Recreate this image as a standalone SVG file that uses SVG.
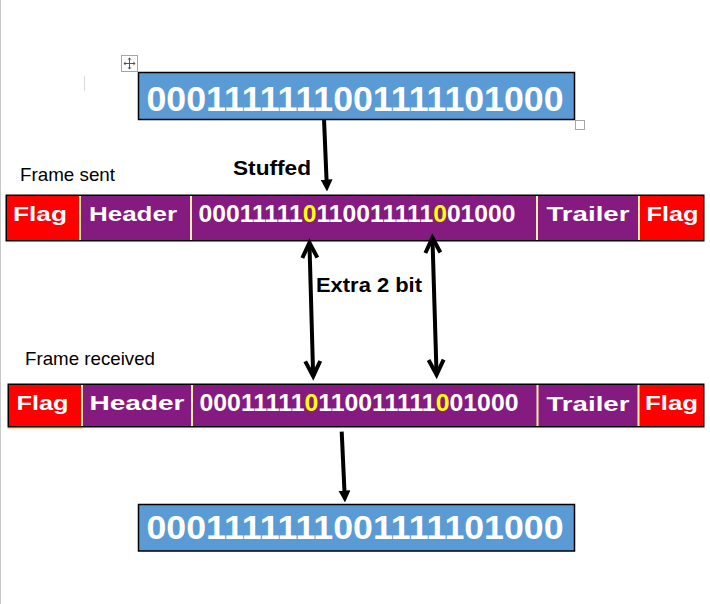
<svg xmlns="http://www.w3.org/2000/svg" width="710" height="604" viewBox="0 0 710 604">
<defs>
<style>
.bits{font-family:"Liberation Sans",Arial,sans-serif;font-weight:700;fill:#fff}
.lbl{font-family:"Liberation Sans",Arial,sans-serif;fill:#000}
.bold{font-weight:700}
.box{fill:#5B9BD5;stroke:#000;stroke-width:1.5}
.red{fill:#FF0000}
.pur{fill:#851B80}
.div{stroke:#FFEFA8;stroke-width:2}
.edge{stroke:#F8B860;stroke-width:1.2}
.frame{fill:none;stroke:#000;stroke-width:1.5}
.y{fill:#FFFF00}
.conn{stroke:#000;stroke-width:4;fill:none}
.handle{fill:#fff;stroke:#A6A6A6;stroke-width:1}
</style>
<marker id="fh" markerUnits="userSpaceOnUse" markerWidth="12" markerHeight="12" viewBox="0 0 12 12" refX="0.5" refY="6" orient="auto"><path d="M0,0 L12,6 L0,12 z" fill="#000"/></marker>
<marker id="oh" markerUnits="userSpaceOnUse" markerWidth="24" markerHeight="24" viewBox="-4 -12 24 24" refX="14.5" refY="0" orient="auto-start-reverse" overflow="visible"><path d="M0,-7.5 L15,0 L0,7.5" fill="none" stroke="#000" stroke-width="4"/></marker>
</defs>

<rect x="0" y="0" width="710" height="604" fill="#fff"/>
<line x1="0.5" y1="0" x2="0.5" y2="604" stroke="#C8C8C8" stroke-width="1"/>
<line x1="84.5" y1="76" x2="84.5" y2="91" stroke="#D9D9D9" stroke-width="1"/>

<g id="move-handle">
<rect class="handle" x="121.5" y="55.5" width="16" height="16"/>
<path d="M129.5,58.5 V68.5 M124.5,63.5 H134.5" stroke="#555" stroke-width="1" fill="none"/>
<path d="M129.5,57.5 l-2,2 h4 z M129.5,69.5 l-2,-2 h4 z M123.5,63.5 l2,-2 v4 z M135.5,63.5 l-2,-2 v4 z" fill="#555"/>
</g>
<rect id="resize-handle" class="handle" x="575.5" y="120.5" width="9" height="9"/>

<g id="top-box">
<rect class="box" x="138.5" y="72.5" width="436" height="47"/>
<text class="bits" x="146.5" y="110.5" font-size="35" textLength="417" lengthAdjust="spacingAndGlyphs">0001111111001111101000</text>
</g>

<g id="frame-sent">
<g id="fs-flag1"><rect class="red" x="6" y="195" width="74" height="46"/><text class="bits" x="13" y="221" font-size="21" textLength="54" lengthAdjust="spacingAndGlyphs">Flag</text></g>
<g id="fs-header"><rect class="pur" x="80" y="195" width="111" height="46"/><text class="bits" x="89" y="221" font-size="21" textLength="88" lengthAdjust="spacingAndGlyphs">Header</text></g>
<g id="fs-data"><rect class="pur" x="191" y="195" width="346" height="46"/><text class="bits" x="198.5" y="221.5" font-size="24" textLength="317" lengthAdjust="spacingAndGlyphs">00011111<tspan class="y">0</tspan>110011111<tspan class="y">0</tspan>01000</text></g>
<g id="fs-trailer"><rect class="pur" x="537" y="195" width="102" height="46"/><text class="bits" x="546.5" y="221" font-size="21" textLength="83" lengthAdjust="spacingAndGlyphs">Trailer</text></g>
<g id="fs-flag2"><rect class="red" x="639" y="195" width="65" height="46"/><text class="bits" x="646.5" y="221" font-size="21" textLength="52" lengthAdjust="spacingAndGlyphs">Flag</text></g>
<path class="div" d="M80,196 V240 M191,196 V240 M537,196 V240 M639,196 V240"/>
<line class="edge" x1="7" y1="240.5" x2="80" y2="240.5"/>
<rect class="frame" x="6.25" y="195.25" width="697.5" height="45.5"/>
</g>

<g id="frame-received">
<g id="fr-flag1"><rect class="red" x="8" y="384" width="74" height="43"/><text class="bits" x="16.5" y="409.5" font-size="21" textLength="52" lengthAdjust="spacingAndGlyphs">Flag</text></g>
<g id="fr-header"><rect class="pur" x="82" y="384" width="110" height="43"/><text class="bits" x="89.5" y="409.5" font-size="21" textLength="95" lengthAdjust="spacingAndGlyphs">Header</text></g>
<g id="fr-data"><rect class="pur" x="192" y="384" width="345" height="43"/><text class="bits" x="199.5" y="411" font-size="23.5" textLength="319" lengthAdjust="spacingAndGlyphs">00011111<tspan class="y">0</tspan>110011111<tspan class="y">0</tspan>01000</text></g>
<g id="fr-trailer"><rect class="pur" x="537" y="384" width="101" height="43"/><text class="bits" x="546.5" y="410.5" font-size="21" textLength="83" lengthAdjust="spacingAndGlyphs">Trailer</text></g>
<g id="fr-flag2"><rect class="red" x="638" y="384" width="66" height="43"/><text class="bits" x="645" y="410" font-size="21" textLength="53" lengthAdjust="spacingAndGlyphs">Flag</text></g>
<path class="div" d="M82,385 V426 M192,385 V426 M537.5,385 V426 M638.5,385 V426"/>
<line class="edge" x1="8" y1="428" x2="83" y2="428"/>
<rect class="frame" x="8.25" y="384.25" width="695.5" height="42.5"/>
</g>

<g id="bottom-box">
<rect class="box" x="138.5" y="504.5" width="436" height="46.5"/>
<text class="bits" x="146.5" y="539" font-size="34" textLength="417" lengthAdjust="spacingAndGlyphs">0001111111001111101000</text>
</g>

<g id="labels">
<text class="lbl" x="20" y="181" font-size="18.5" textLength="95" lengthAdjust="spacingAndGlyphs">Frame sent</text>
<text class="lbl" x="25" y="365" font-size="18.5" textLength="130" lengthAdjust="spacingAndGlyphs">Frame received</text>
<text class="lbl bold" x="233" y="175" font-size="20" textLength="78" lengthAdjust="spacingAndGlyphs">Stuffed</text>
<text class="lbl bold" x="316" y="291.5" font-size="20" textLength="106" lengthAdjust="spacingAndGlyphs">Extra 2 bit</text>
</g>

<g id="connectors">
<line class="conn" x1="324" y1="119" x2="326.55" y2="180" marker-end="url(#fh)"/>
<line class="conn" x1="341.7" y1="431.7" x2="344.45" y2="491" marker-end="url(#fh)"/>
<line class="conn" x1="309.44" y1="243.3" x2="313.16" y2="375.7" marker-start="url(#oh)" marker-end="url(#oh)"/>
<line class="conn" x1="432.45" y1="238.3" x2="436.55" y2="374.3" marker-start="url(#oh)" marker-end="url(#oh)"/>
</g>
</svg>
